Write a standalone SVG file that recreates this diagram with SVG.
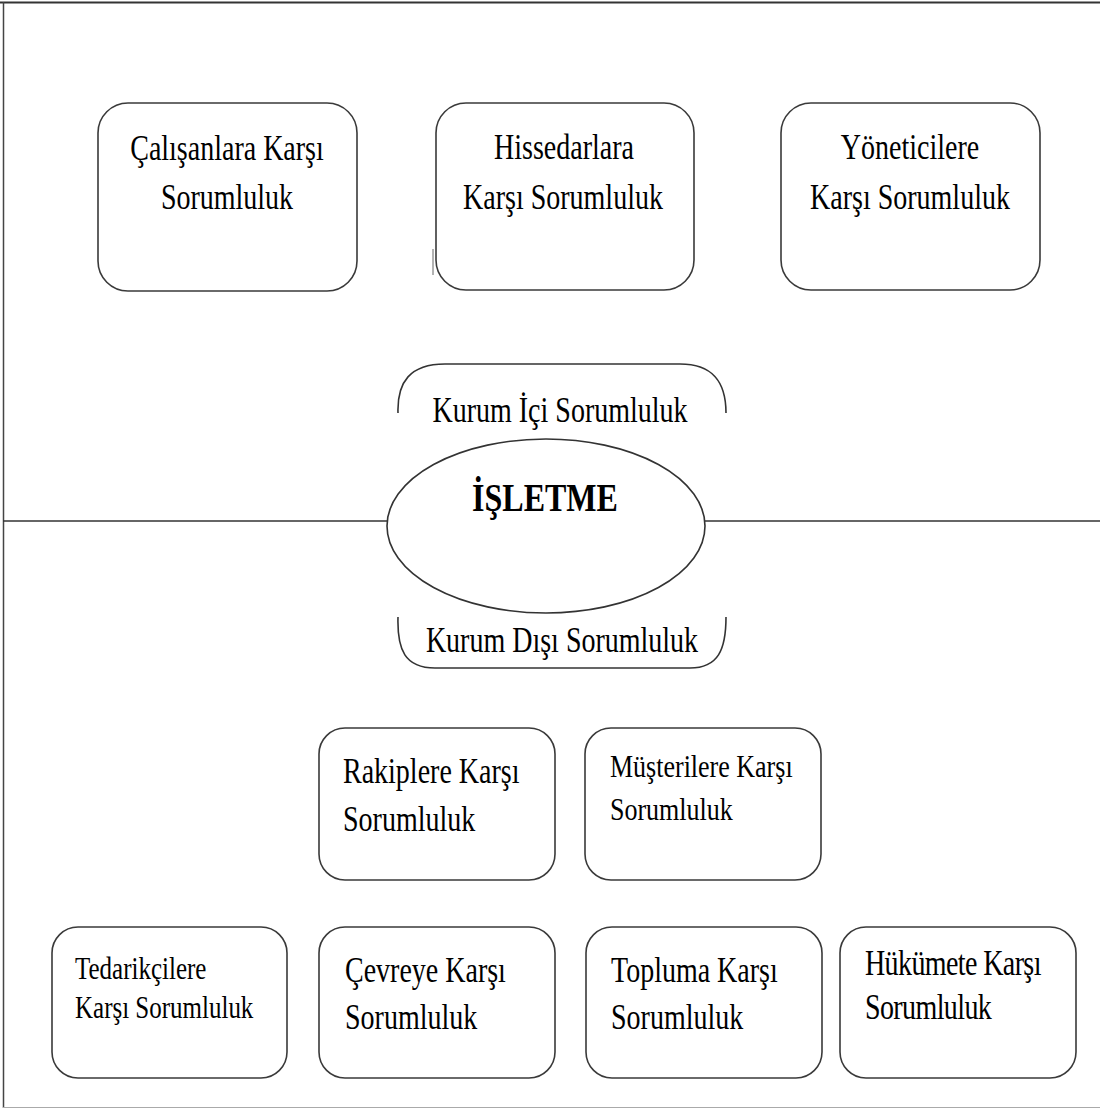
<svg xmlns="http://www.w3.org/2000/svg" width="1100" height="1109" viewBox="0 0 1100 1109">
<style>
.box{fill:#fff;stroke:#3a3a3a;stroke-width:1.6}
.t{font-family:"Liberation Serif","Times New Roman",serif;font-size:28px;fill:#000}
.s{font-size:25px}
.c{text-anchor:middle}
.b{font-weight:bold;font-size:32px}
.ln{fill:none;stroke:#333;stroke-width:1.6}
</style>
<rect width="1100" height="1109" fill="#fff"/>
<g id="frame">
<line x1="0" y1="2.5" x2="1100" y2="2.5" stroke="#333" stroke-width="2"/>
<line x1="3.5" y1="2" x2="3.5" y2="1108" stroke="#444" stroke-width="1.5"/>
<line x1="3" y1="1107.5" x2="1100" y2="1107.5" stroke="#aaa" stroke-width="1.2"/>
</g>
<g id="connectors">
<line class="ln" x1="3" y1="521" x2="388" y2="521"/>
<line class="ln" x1="705" y1="521" x2="1100" y2="521"/>
<line x1="433" y1="249" x2="433" y2="275" stroke="#666" stroke-width="1"/>
</g>
<g id="n-calisanlar">
<rect class="box" x="98" y="103" width="259" height="188" rx="30"/>
<text class="t c" transform="translate(227,160) scale(1,1.25)">Çalışanlara  Karşı</text>
<text class="t c" transform="translate(227,209) scale(1,1.25)">Sorumluluk</text>
</g>
<g id="n-hissedarlar">
<rect class="box" x="436" y="103" width="258" height="187" rx="30"/>
<text class="t c" transform="translate(564,159) scale(1,1.25)">Hissedarlara</text>
<text class="t c" transform="translate(563,209) scale(1,1.25)">Karşı Sorumluluk</text>
</g>
<g id="n-yoneticiler">
<rect class="box" x="781" y="103" width="259" height="187" rx="30"/>
<text class="t c" transform="translate(910,159) scale(1,1.25)">Yöneticilere</text>
<text class="t c" transform="translate(910,209) scale(1,1.25)">Karşı Sorumluluk</text>
</g>
<g id="n-kurum-ici">
<path class="ln" d="M398,413 C397,382 410,364 445,364 L680,364 C713,364 726,382 726,413"/>
<text class="t c" transform="translate(560,422) scale(1,1.25)">Kurum İçi Sorumluluk</text>
</g>
<g id="n-isletme">
<ellipse class="ln" cx="546" cy="526" rx="159" ry="87" fill="#fff"/>
<text class="t c b" transform="translate(545,511) scale(1,1.25)">İŞLETME</text>
</g>
<g id="n-kurum-disi">
<path class="ln" d="M398,617 C397,650 405,668 435,668 L690,668 C718,668 726,650 726,617"/>
<text class="t c" transform="translate(562,652) scale(1,1.25)">Kurum Dışı Sorumluluk</text>
</g>
<g id="n-rakipler">
<rect class="box" x="319" y="728" width="236" height="152" rx="26"/>
<text class="t" transform="translate(343,783) scale(1,1.25)">Rakiplere Karşı</text>
<text class="t" transform="translate(343,831) scale(1,1.25)">Sorumluluk</text>
</g>
<g id="n-musteriler">
<rect class="box" x="585" y="728" width="236" height="152" rx="26"/>
<text class="t" transform="translate(610,777) scale(1,1.25)" style="font-size:26px">Müşterilere Karşı</text>
<text class="t" transform="translate(610,820) scale(1,1.25)" style="font-size:26px">Sorumluluk</text>
</g>
<g id="n-tedarikciler">
<rect class="box" x="52" y="927" width="235" height="151" rx="26"/>
<text class="t s" transform="translate(75,979) scale(1,1.25)">Tedarikçilere</text>
<text class="t s" transform="translate(75,1018) scale(1,1.25)">Karşı Sorumluluk</text>
</g>
<g id="n-cevre">
<rect class="box" x="319" y="927" width="236" height="151" rx="26"/>
<text class="t" transform="translate(345,982) scale(1,1.25)">Çevreye Karşı</text>
<text class="t" transform="translate(345,1029) scale(1,1.25)">Sorumluluk</text>
</g>
<g id="n-toplum">
<rect class="box" x="586" y="927" width="236" height="151" rx="26"/>
<text class="t" transform="translate(611,982) scale(1,1.25)">Topluma  Karşı</text>
<text class="t" transform="translate(611,1029) scale(1,1.25)">Sorumluluk</text>
</g>
<g id="n-hukumet">
<rect class="box" x="840" y="927" width="236" height="151" rx="26"/>
<text class="t" transform="translate(865,975) scale(1,1.25)" style="letter-spacing:-0.6px">Hükümete Karşı</text>
<text class="t" transform="translate(865,1019) scale(1,1.25)" style="letter-spacing:-0.6px">Sorumluluk</text>
</g>
</svg>
